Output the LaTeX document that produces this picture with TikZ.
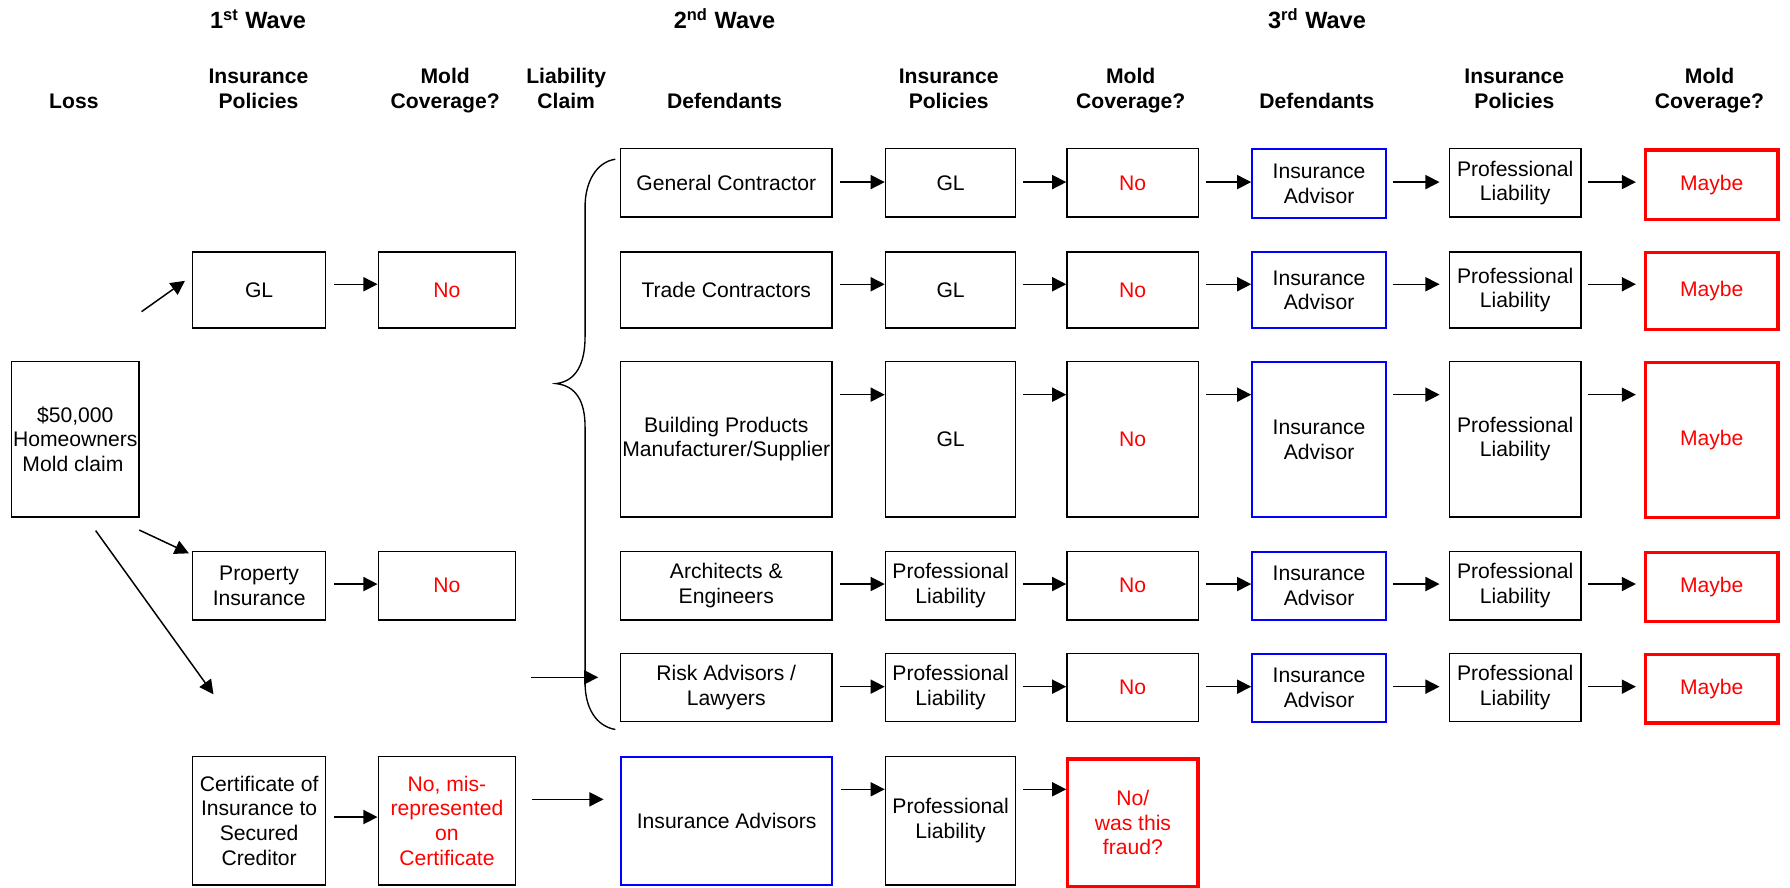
\documentclass[tikz,border=0pt]{standalone}
\usepackage{fontspec}
\setmainfont{Liberation Sans}
\usetikzlibrary{arrows.meta}
\newcommand\bodyfont{\fontsize{9.25}{10.8}\selectfont}
\newcommand\headfont{\fontsize{9.25}{10.95}\selectfont\bfseries}
\newcommand\wavefont{\fontsize{10.3}{12}\selectfont\bfseries}
\newcommand\hd[1]{\begin{tabular}[b]{@{}c@{}}#1\end{tabular}}
\newcommand\bx[7]{\node[#6, minimum width={(#4-#2)*0.5pt}, minimum height={(#5-#3)*0.5pt}, anchor=north west] (#1) at (#2,#3) {#7};}
\tikzset{
  box/.style={draw=black, line width=0.7pt, inner sep=0pt, align=center, font=\bodyfont},
  bbox/.style={box, draw=blue, line width=1pt},
  rbox/.style={box, draw=red, line width=1.4pt, text=red},
  rtxt/.style={box, text=red},
  arr/.style={-{Triangle[length=6.2pt,width=6.2pt]}, line width=0.65pt},
  hdr/.style={font=\headfont, inner sep=0pt, anchor=base},
  wave/.style={font=\wavefont, inner sep=0pt, anchor=base},
  bracestyle/.style={line width=0.6pt},
}
\begin{document}
\begin{tikzpicture}[x=0.5pt,y=-0.5pt]
\useasboundingbox (0,0) rectangle (1568,777);
% titles
\node[wave] (w1) at (226,24.8) {1\textsuperscript{st} Wave};
\node[wave] (w2) at (634.7,24.8) {2\textsuperscript{nd} Wave};
\node[wave] (w3) at (1153.6,24.8) {3\textsuperscript{rd} Wave};
% headers
\node[hdr] (h1) at (64.7,94.9) {\hd{Loss}};
\node[hdr] (h2) at (226.4,94.9) {\hd{Insurance\\Policies}};
\node[hdr] (h3) at (390,94.9) {\hd{Mold\\Coverage?}};
\node[hdr] (h4) at (496,94.9) {\hd{Liability\\Claim}};
\node[hdr] (h5) at (634.7,94.9) {\hd{Defendants}};
\node[hdr] (h6) at (831,94.9) {\hd{Insurance\\Policies}};
\node[hdr] (h7) at (990.5,94.9) {\hd{Mold\\Coverage?}};
\node[hdr] (h8) at (1153.6,94.9) {\hd{Defendants}};
\node[hdr] (h9) at (1326.5,94.9) {\hd{Insurance\\Policies}};
\node[hdr] (h10) at (1497.5,94.9) {\hd{Mold\\Coverage?}};
% loss and first wave
\bx{loss}{9.3}{316}{121.2}{452}{box}{\$50,000\\Homeowners\\Mold claim\hphantom{i}}
\bx{gl1}{168}{220}{284.6}{286.5}{box}{GL}
\bx{no1}{330.7}{220}{451}{286.5}{rtxt}{No}
\bx{prop}{168}{482.4}{284.6}{542.2}{box}{Property\\Insurance}
\bx{no2}{330.7}{482.4}{451}{542.2}{rtxt}{No}
\bx{cert}{168}{662}{284.6}{774.4}{box}{Certificate of\\Insurance to\\Secured\\Creditor}
\bx{nomis}{330.7}{662}{451}{774.4}{rtxt}{No, mis-\\represented\\on\\Certificate}
% second wave
\bx{d1}{543}{129.5}{728}{189.5}{box}{General Contractor}
\bx{d2}{543}{220}{728}{286.5}{box}{Trade Contractors}
\bx{d3}{543}{316}{728}{452}{box}{Building Products\\Manufacturer/Supplier}
\bx{d4}{543}{482.4}{728}{542.2}{box}{Architects \&\\Engineers}
\bx{d5}{543}{571.7}{728}{631.3}{box}{Risk Advisors /\\Lawyers}
\bx{d6}{543}{662}{728}{774.4}{bbox}{Insurance Advisors}
\bx{p1}{775}{129.5}{889}{189.5}{box}{GL}
\bx{p2}{775}{220}{889}{286.5}{box}{GL}
\bx{p3}{775}{316}{889}{452}{box}{GL}
\bx{p4}{775}{482.4}{889}{542.2}{box}{Professional\\Liability}
\bx{p5}{775}{571.7}{889}{631.3}{box}{Professional\\Liability}
\bx{p6}{775}{662}{889}{774.4}{box}{Professional\\Liability}
\bx{m1}{934}{129.5}{1049}{189.5}{rtxt}{No}
\bx{m2}{934}{220}{1049}{286.5}{rtxt}{No}
\bx{m3}{934}{316}{1049}{452}{rtxt}{No}
\bx{m4}{934}{482.4}{1049}{542.2}{rtxt}{No}
\bx{m5}{934}{571.7}{1049}{631.3}{rtxt}{No}
\bx{m6}{934}{663.4}{1048}{775}{rbox}{No/\\was this\\fraud?}
% third wave
\bx{e1}{1096}{129.5}{1213}{190}{bbox}{Insurance\\Advisor}
\bx{e2}{1096}{220}{1213}{286.5}{bbox}{Insurance\\Advisor}
\bx{e3}{1096}{316}{1213}{452}{bbox}{Insurance\\Advisor}
\bx{e4}{1096}{482.4}{1213}{542.2}{bbox}{Insurance\\Advisor}
\bx{e5}{1096}{571.7}{1213}{631.3}{bbox}{Insurance\\Advisor}
\bx{q1}{1269}{129.5}{1384}{189.5}{box}{Professional\\Liability}
\bx{q2}{1269}{220}{1384}{286.5}{box}{Professional\\Liability}
\bx{q3}{1269}{316}{1384}{452}{box}{Professional\\Liability}
\bx{q4}{1269}{482.4}{1384}{542.2}{box}{Professional\\Liability}
\bx{q5}{1269}{571.7}{1384}{631.3}{box}{Professional\\Liability}
\bx{z1}{1440}{130}{1556}{191}{rbox}{Maybe}
\bx{z2}{1440}{220}{1556}{287}{rbox}{Maybe}
\bx{z3}{1440}{316}{1556}{452}{rbox}{Maybe}
\bx{z4}{1440}{482.4}{1556}{543}{rbox}{Maybe}
\bx{z5}{1440}{571.7}{1556}{632}{rbox}{Maybe}
% arrow levels
\coordinate (y1) at (0,159.5);
\coordinate (y2) at (0,249);
\coordinate (y3) at (0,345.7);
\coordinate (y4) at (0,511.6);
\coordinate (y5) at (0,601.5);
\coordinate (yF) at (0,691.4);
\coordinate (yG) at (0,715.7);
\coordinate (yH) at (0,700.2);
% row arrows
\foreach \r in {1,...,5}{
  \draw[arr, shorten <=3.25pt] (d\r.east |- y\r) -- (p\r.west |- y\r);
  \draw[arr, shorten <=3pt] (p\r.east |- y\r) -- (m\r.west |- y\r);
  \draw[arr, shorten <=3pt] (m\r.east |- y\r) -- (e\r.west |- y\r);
  \draw[arr, shorten <=2.8pt, shorten >=4pt] (e\r.east |- y\r) -- (q\r.west |- y\r);
  \draw[arr, shorten <=3pt, shorten >=3.5pt] (q\r.east |- y\r) -- (z\r.west |- y\r);
}
\draw[arr, shorten <=3.25pt] (d6.east |- yF) -- (p6.west |- yF);
\draw[arr, shorten <=3pt] (p6.east |- yF) -- (m6.west |- yF);
% first wave arrows
\draw[arr, shorten <=3.5pt] (gl1.east |- y2) -- (no1.west |- y2);
\draw[arr, shorten <=3.5pt] (prop.east |- y4) -- (no2.west |- y4);
\draw[arr, shorten <=3.5pt] (cert.east |- yG) -- (nomis.west |- yG);
\draw[arr, shorten <=7pt, shorten >=7.15pt] (nomis.east |- yH) -- (d6.west |- yH);
% loss arrows
\coordinate (a1s) at (124,273);
\coordinate (a1e) at (162,246);
\coordinate (a2s) at (122,464.3);
\coordinate (a2e) at (165.5,484.7);
\coordinate (a3s) at (83.8,464.8);
\coordinate (a3e) at (187,608.2);
\draw[arr] (a1s) -- (a1e);
\draw[arr] (a2s) -- (a2e);
\draw[arr] (a3s) -- (a3e);
% liability claim brace
\draw[bracestyle] (539,139.5) .. controls (522,142) and (512.5,160) .. (512.5,181)
  -- (512.5,295) .. controls (512.5,318) and (505,334) .. (487,336)
  .. controls (505,338) and (512.5,352) .. (512.5,374)
  -- (512.5,598) .. controls (512.5,620) and (522,636) .. (539,639);
\coordinate (bs) at (465,593.3);
\draw[arr, shorten >=9.5pt] (bs) -- (d5.west |- bs);
\end{tikzpicture}
\end{document}
